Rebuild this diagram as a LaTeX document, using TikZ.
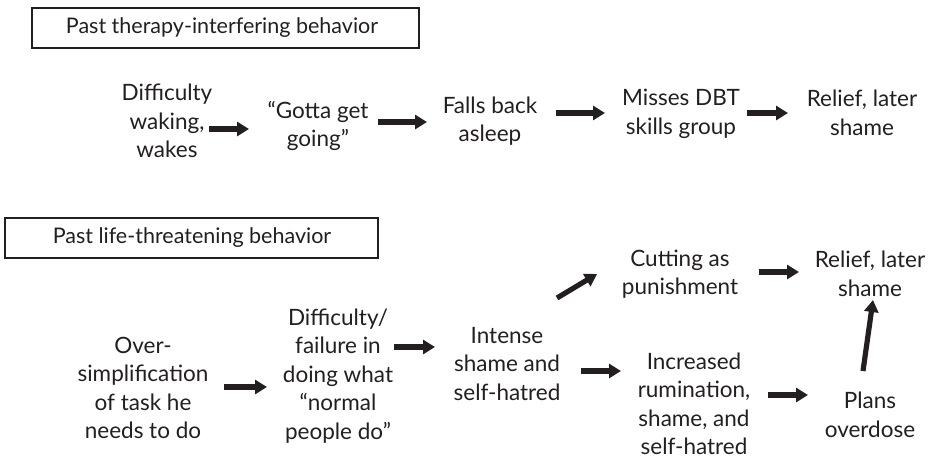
\documentclass[tikz,border=0pt]{standalone}
\usepackage{fontspec}
\setmainfont{Lato}
\usetikzlibrary{arrows.meta}
\definecolor{ink}{HTML}{231F20}
\begin{document}
\begin{tikzpicture}[x=1pt,y=-1pt,
  txt/.style={inner sep=0pt,align=center,text=ink,font=\fontsize{22.5}{28.5}\selectfont},
  ttl/.style={inner sep=0pt,text=ink,font=\fontsize{21.5}{24}\selectfont},
  frame/.style={draw=ink,line width=1.1pt},
  arr/.style={draw=ink,line width=5.2pt,-{Triangle[length=12pt,width=14pt]}}]
\useasboundingbox (0,0) rectangle (932,459);
% titles
\draw[frame] (32,8) rectangle (419,48);
\node[ttl] (t1) at (222,28) {Past therapy-interfering behavior};
\draw[frame] (5,218) rectangle (378,258);
\node[ttl] (t2) at (192,238) {Past life-threatening behavior};
% top row
\node[txt] (n1) at (167,121) {Difficulty\\waking,\\wakes};
\node[txt] (n2) at (318,126) {“Gotta get\\going”};
\node[txt] (n3) at (490,121) {Falls back\\asleep};
\node[txt] (n4) at (681,114) {Misses DBT\\skills group};
\node[txt] (n5) at (862,113) {Relief, later\\shame};
% bottom
\node[txt] (n6) at (143,388) {Over-\\simplification\\of task he\\needs to do};
\node[txt] (n7) at (338,376) {Difficulty/\\failure in\\doing what\\“normal\\people do”};
\node[txt] (n8) at (507,364) {Intense\\shame and\\self-hatred};
\node[txt] (n9) at (680,274) {Cutting as\\punishment};
\node[txt] (n10) at (870,274) {Relief, later\\shame};
\node[txt] (n11) at (694,404) {Increased\\rumination,\\shame, and\\self-hatred};
\node[txt] (n12) at (870,415) {Plans\\overdose};
% arrow ends
\coordinate (a1s) at (209,129); \coordinate (a1e) at (249,129);
\coordinate (a2s) at (378,122); \coordinate (a2e) at (427,122);
\coordinate (a3s) at (556,113); \coordinate (a3e) at (605,113);
\coordinate (a4s) at (747,113); \coordinate (a4e) at (788,113);
\coordinate (a5s) at (224,387); \coordinate (a5e) at (267,387);
\coordinate (a6s) at (394,347); \coordinate (a6e) at (435,347);
\coordinate (a7s) at (557,298); \coordinate (a7e) at (597,274);
\coordinate (a8s) at (581,371); \coordinate (a8e) at (621,371);
\coordinate (a9s) at (759,272); \coordinate (a9e) at (799,272);
\coordinate (a10s) at (768,395); \coordinate (a10e) at (808,395);
\coordinate (a11s) at (863,371); \coordinate (a11e) at (873,300);
\draw[arr] (a1s) -- (a1e);
\draw[arr] (a2s) -- (a2e);
\draw[arr] (a3s) -- (a3e);
\draw[arr] (a4s) -- (a4e);
\draw[arr] (a5s) -- (a5e);
\draw[arr] (a6s) -- (a6e);
\draw[arr] (a7s) -- (a7e);
\draw[arr] (a8s) -- (a8e);
\draw[arr] (a9s) -- (a9e);
\draw[arr] (a10s) -- (a10e);
\draw[arr] (a11s) -- (a11e);
\end{tikzpicture}
\end{document}
